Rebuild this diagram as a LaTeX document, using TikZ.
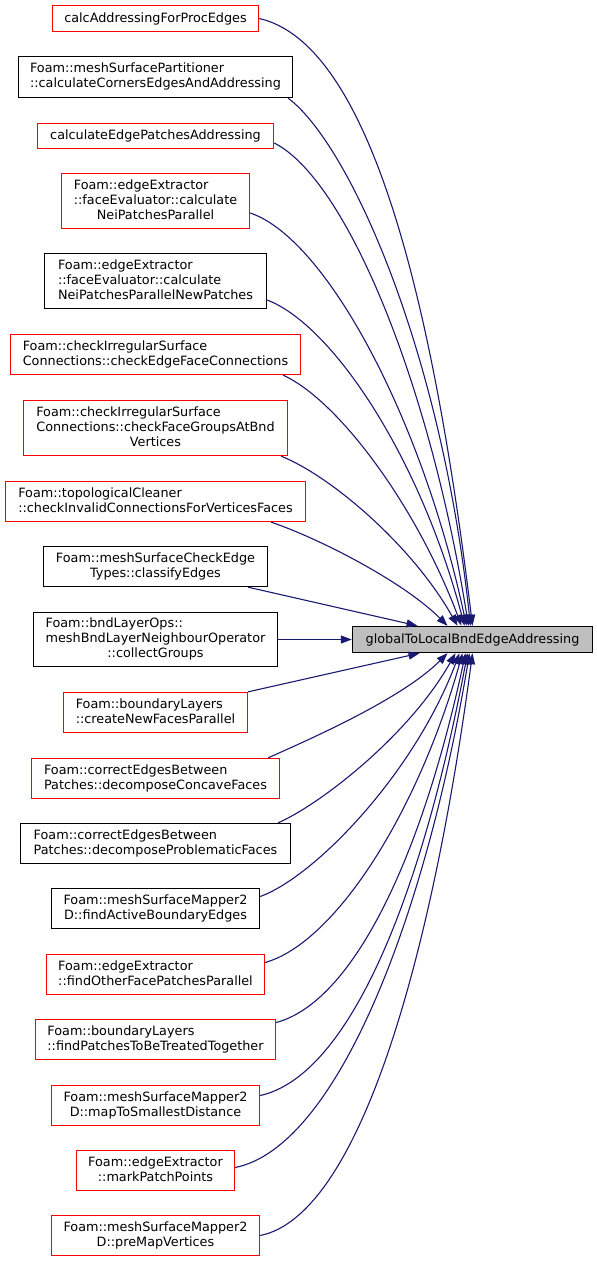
\documentclass[tikz,border=0pt]{standalone}
\usepackage{fontspec}
\setmainfont{DejaVu Sans}
\usetikzlibrary{arrows.meta}
\definecolor{EdgeBlue}{RGB}{25,25,112}
\definecolor{CallerRed}{RGB}{255,0,0}
\definecolor{FocusGrey}{RGB}{191,191,191}
% label with left aligned lines and a centred last line
\newcommand{\dlabel}[2]{\begin{tabular}{@{}l@{}}#1\\\multicolumn{1}{@{}c@{}}{#2}\end{tabular}}
\tikzset{
  fnbox/.style={draw,rectangle,line width=1.4pt,inner sep=0pt,text=black,font=\fontsize{12.8}{15}\selectfont},
  redfn/.style={fnbox,draw=CallerRed},
  blackfn/.style={fnbox,draw=black},
  focusfn/.style={fnbox,draw=black,fill=FocusGrey},
  calls/.style={-{Triangle[length=11pt,width=8pt]},line width=1.1pt,draw=EdgeBlue}
}
\begin{document}
\begin{tikzpicture}[x=1pt,y=-1pt]
  \useasboundingbox (0,0) rectangle (597,1262);
  \node[focusfn,minimum width=240pt,minimum height=26pt] (tgt) at (472.5,639.5) {globalToLocalBndEdgeAddressing};

  % callers
  \node[redfn,minimum width=206pt,minimum height=26pt] (calc) at (155.5,18.5) {calcAddressingForProcEdges};
  \node[blackfn,minimum width=274pt,minimum height=41pt] (part) at (155.5,77) {\dlabel{Foam::meshSurfacePartitioner}{::calculateCornersEdgesAndAddressing}};
  \node[redfn,minimum width=236pt,minimum height=25pt] (cep) at (155.5,136) {calculateEdgePatchesAddressing};
  \node[redfn,minimum width=188pt,minimum height=55pt] (neip) at (155.5,201) {\dlabel{Foam::edgeExtractor\\::faceEvaluator::calculate}{NeiPatchesParallel}};
  \node[blackfn,minimum width=222pt,minimum height=55pt] (newp) at (155.5,281) {\dlabel{Foam::edgeExtractor\\::faceEvaluator::calculate}{NeiPatchesParallelNewPatches}};
  \node[redfn,minimum width=290pt,minimum height=40pt] (cefc) at (155.5,354.5) {\dlabel{Foam::checkIrregularSurface}{Connections::checkEdgeFaceConnections}};
  \node[redfn,minimum width=264pt,minimum height=55pt] (cfg) at (155.5,428) {\dlabel{Foam::checkIrregularSurface\\Connections::checkFaceGroupsAtBnd}{Vertices}};
  \node[redfn,minimum width=300pt,minimum height=40pt] (topo) at (155.5,501.5) {\dlabel{Foam::topologicalCleaner}{::checkInvalidConnectionsForVerticesFaces}};
  \node[blackfn,minimum width=224pt,minimum height=40pt] (cls) at (155.5,566.5) {\dlabel{Foam::meshSurfaceCheckEdge}{Types::classifyEdges}};
  \node[blackfn,minimum width=244pt,minimum height=54pt] (coll) at (155.5,639.5) {\dlabel{Foam::bndLayerOps::\\meshBndLayerNeighbourOperator}{::collectGroups}};
  \node[redfn,minimum width=184pt,minimum height=40pt] (cnf) at (155.5,712.5) {\dlabel{Foam::boundaryLayers}{::createNewFacesParallel}};
  \node[redfn,minimum width=248pt,minimum height=40pt] (dcf) at (155.5,778.5) {\dlabel{Foam::correctEdgesBetween}{Patches::decomposeConcaveFaces}};
  \node[blackfn,minimum width=270pt,minimum height=40pt] (dpf) at (155.5,843.5) {\dlabel{Foam::correctEdgesBetween}{Patches::decomposeProblematicFaces}};
  \node[blackfn,minimum width=208pt,minimum height=40pt] (fab) at (155.5,908.5) {\dlabel{Foam::meshSurfaceMapper2}{D::findActiveBoundaryEdges}};
  \node[redfn,minimum width=218pt,minimum height=40pt] (fop) at (155.5,974.5) {\dlabel{Foam::edgeExtractor}{::findOtherFacePatchesParallel}};
  \node[redfn,minimum width=240pt,minimum height=40pt] (fpt) at (155.5,1039.5) {\dlabel{Foam::boundaryLayers}{::findPatchesToBeTreatedTogether}};
  \node[redfn,minimum width=208pt,minimum height=40pt] (msd) at (155.5,1105.5) {\dlabel{Foam::meshSurfaceMapper2}{D::mapToSmallestDistance}};
  \node[redfn,minimum width=158pt,minimum height=40pt] (mpp) at (155.5,1170.5) {\dlabel{Foam::edgeExtractor}{::markPatchPoints}};
  \node[redfn,minimum width=208pt,minimum height=40pt] (pmv) at (155.5,1235.5) {\dlabel{Foam::meshSurfaceMapper2}{D::preMapVertices}};

  % edges into the top of the focus node
  \draw[calls] (calc.east) .. controls +(110,25) and +(-40,-330) .. (tgt.north);
  \draw[calls] ([xshift=-5pt]part.south east) .. controls +(60,45) and +(-30,-280) .. ([xshift=-2pt]tgt.north);
  \draw[calls] ([yshift=-7pt]cep.east) .. controls +(70,35) and +(-40,-250) .. ([xshift=-4pt]tgt.north);
  \draw[calls] ([yshift=-12pt]neip.east) .. controls +(75,25) and +(-45,-210) .. ([xshift=-6pt]tgt.north);
  \draw[calls] ([yshift=-19pt]newp.east) .. controls +(65,25) and +(-45,-170) .. ([xshift=-8pt]tgt.north);
  \draw[calls] ([xshift=-18pt]cefc.south east) .. controls +(55,25) and +(-45,-120) .. ([xshift=-11pt]tgt.north);
  \draw[calls] ([xshift=-7pt]cfg.south east) .. controls +(50,20) and +(-45,-80) .. ([xshift=-15pt]tgt.north);
  \draw[calls] ([xshift=-35pt]topo.south east) .. controls +(45,15) and +(-45,-45) .. ([xshift=-25pt]tgt.north);
  \draw[calls] ([xshift=-20pt]cls.south east) -- ([xshift=-55pt]tgt.north);
  \draw[calls] (coll.east) -- (tgt.west);
  % edges into the bottom of the focus node
  \draw[calls] (cnf.north east) -- ([xshift=-53pt]tgt.south);
  \draw[calls] ([xshift=-12pt]dcf.north east) .. controls +(45,-20) and +(-45,45) .. ([xshift=-25pt]tgt.south);
  \draw[calls] ([xshift=-13pt]dpf.north east) .. controls +(45,-20) and +(-45,80) .. ([xshift=-17pt]tgt.south);
  \draw[calls] ([yshift=12pt]fab.east) .. controls +(55,-20) and +(-45,120) .. ([xshift=-13pt]tgt.south);
  \draw[calls] ([yshift=12pt]fop.east) .. controls +(70,-20) and +(-45,160) .. ([xshift=-10pt]tgt.south);
  \draw[calls] ([yshift=17pt]fpt.east) .. controls +(75,-20) and +(-45,210) .. ([xshift=-7pt]tgt.south);
  \draw[calls] ([yshift=10pt]msd.east) .. controls +(90,-20) and +(-45,240) .. ([xshift=-5pt]tgt.south);
  \draw[calls] ([yshift=3pt]mpp.east) .. controls +(100,-20) and +(-45,270) .. ([xshift=-3pt]tgt.south);
  \draw[calls] (pmv.east) .. controls +(100,-20) and +(-40,300) .. (tgt.south);
\end{tikzpicture}
\end{document}
